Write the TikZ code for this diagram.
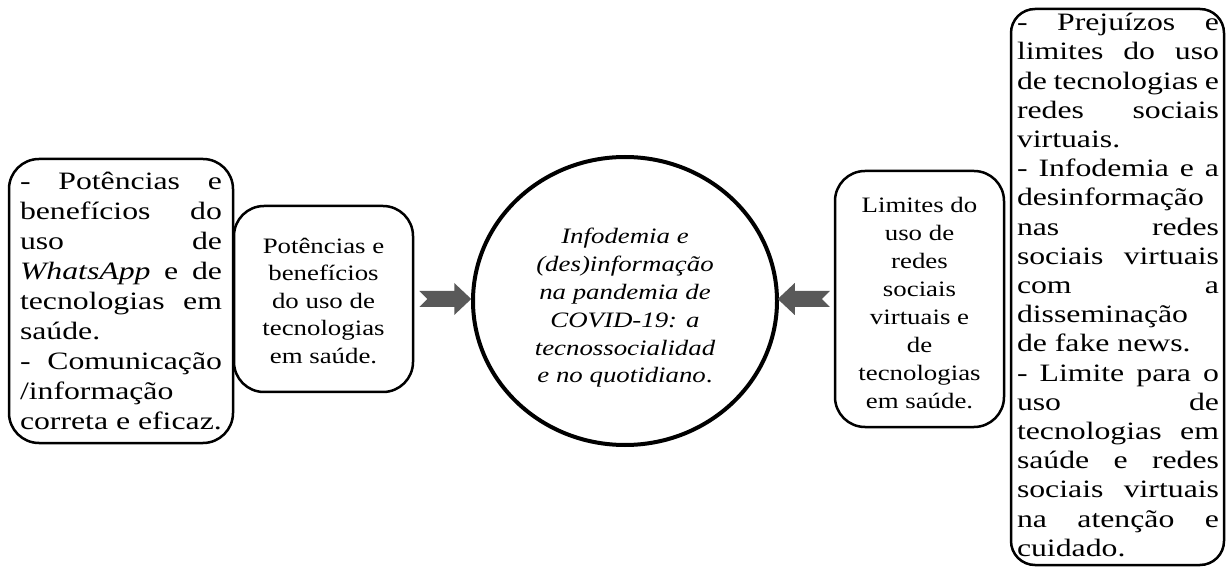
\documentclass[tikz,border=0pt]{standalone}
\usepackage{fontspec}
\setmainfont{Liberation Serif}[FakeStretch=1.22]
\newfontfamily\widefam{Liberation Serif}[FakeStretch=1.27]
\usetikzlibrary{shapes.geometric,calc}

\definecolor{arrowgray}{HTML}{595959}

% type sizes: body text of the outer boxes and the smaller text of the inner ones
\newcommand\bodybig{\widefam\fontsize{25}{29.5}\selectfont}
\newcommand\bodysmall{\fontsize{22}{27.6}\selectfont}

% stacks of lines with a fixed baseline distance (#1), centred or flush left
\newcommand\stackc[2]{\vbox{\baselineskip=#1\lineskiplimit=-100pt\lineskip=0pt
  \halign{\hfil##\hfil\cr#2\crcr}}}
\newcommand\stackl[2]{\vbox{\baselineskip=#1\lineskiplimit=-100pt\lineskip=0pt
  \halign{##\hfil\cr#2\crcr}}}

% justified and left-aligned lines of a fixed-width column
\newlength\colw
\setlength\colw{202pt}
\newcommand\jline[1]{\makebox[\colw][s]{#1}}
\newcommand\lline[1]{\makebox[\colw][l]{#1}}

\tikzset{
  box/.style={draw, line width=2.5pt, rounded corners=30pt, inner sep=0pt},
  hub/.style={draw, ellipse, line width=4pt, inner sep=0pt},
  txt/.style={inner sep=0pt},
  bigbody/.style={txt, font=\bodybig},
  smallbody/.style={txt, font=\bodysmall},
  blockarrow/.pic={
    \fill[arrowgray] (0,-8) -- (35,-8) -- (35,-16) -- (52,0) -- (35,16)
                     -- (35,8) -- (0,8) -- (8,0) -- cycle;
  }
}

\begin{document}
\begin{tikzpicture}[x=1pt, y=-1pt]
  \path[fill=white, use as bounding box] (0,0) rectangle (1227,569);

  % frames
  \node[box, minimum width=224pt, minimum height=284pt] (L1) at (121,301) {};
  \node[box, minimum width=179pt, minimum height=186pt] (L2) at (323.5,299) {};
  \node[hub, minimum width=304pt, minimum height=288pt] (hub) at (625,301) {};
  \node[box, minimum width=169pt, minimum height=256pt] (R1) at (919.5,299) {};
  \node[box, minimum width=213pt, minimum height=556pt, rounded corners=24pt] (R2) at (1117.5,287) {};

  % left: detailed list of potentials
  \node[bigbody] (L1text) at (L1.center) {\stackl{29.9pt}{%
    \jline{- Potências e}\cr
    \jline{benefícios do}\cr
    \jline{uso de}\cr
    \jline{\textit{WhatsApp} e de}\cr
    \jline{tecnologias em}\cr
    \lline{saúde.}\cr
    \jline{- Comunicação}\cr
    \lline{/informação}\cr
    \lline{correta e eficaz.}}};

  % left: summary category
  \node[smallbody] (L2text) at ($(L2.center)+(0,2)$) {\stackc{27.5pt}{%
    Potências e\cr benefícios\cr do uso de\cr tecnologias\cr em saúde.}};

  % central theme
  \node[smallbody] (hubtext) at ($(hub.center)+(0,7)$) {\itshape\stackc{27.8pt}{%
    Infodemia e\cr (des)informação\cr na pandemia de\cr COVID-19: a\cr
    tecnossocialidad\cr e no quotidiano\upshape.}};

  % right: summary category
  \node[smallbody] (R1text) at ($(R1.center)+(0,4)$) {\stackc{28pt}{%
    Limites do\cr uso de\cr redes\cr sociais\cr virtuais e\cr de\cr
    tecnologias\cr em saúde.}};

  % right: detailed list of limits
  \node[bigbody] (R2text) at ($(R2.center)+(0.5,-2)$) {\stackl{29.2pt}{%
    \jline{- Prejuízos e}\cr
    \jline{limites do uso}\cr
    \jline{de tecnologias e}\cr
    \jline{redes sociais}\cr
    \lline{virtuais.}\cr
    \jline{- Infodemia e a}\cr
    \lline{desinformação}\cr
    \jline{nas redes}\cr
    \jline{sociais virtuais}\cr
    \jline{com a}\cr
    \lline{disseminação}\cr
    \lline{de fake news.}\cr
    \jline{- Limite para o}\cr
    \jline{uso de}\cr
    \jline{tecnologias em}\cr
    \jline{saúde e redes}\cr
    \jline{sociais virtuais}\cr
    \jline{na atenção e}\cr
    \lline{cuidado.}}};

  % block arrows pointing into the central theme
  \path ($(L2.east)+(5,0)$) pic {blockarrow};
  \path ($(R1.west)+(-4,0)$) pic[rotate=180] {blockarrow};
\end{tikzpicture}
\end{document}
